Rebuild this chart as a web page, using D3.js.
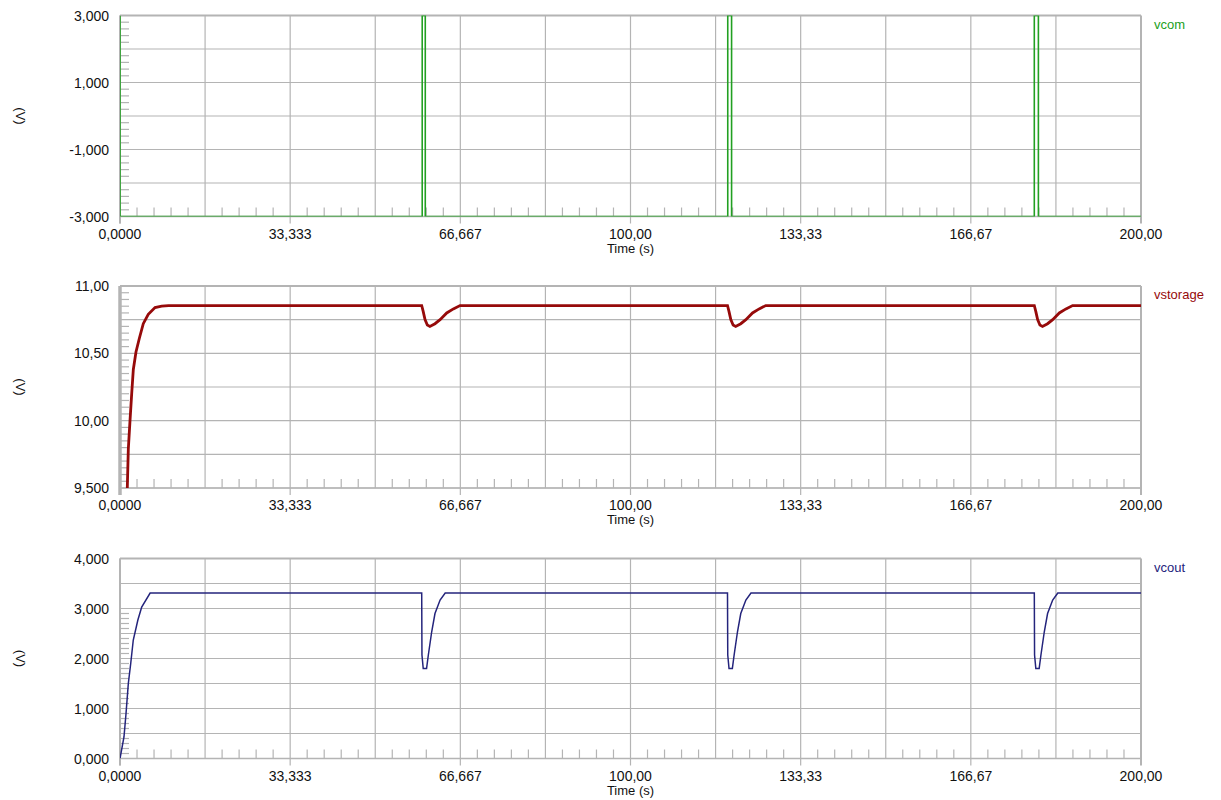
<!DOCTYPE html>
<html>
<head>
<meta charset="utf-8">
<script src="https://cdn.jsdelivr.net/npm/d3@7"></script>
<style>
  body { margin: 0; background: #fff; }
  text { font-family: "Liberation Sans", Arial, sans-serif; fill: #111; }
</style>
</head>
<body>
<div id="container"></div>
<script>
/* DATA */
const xTicks = [0, 33.333, 66.667, 100, 133.33, 166.67, 200];
const xTickLabels = ["0,0000", "33,333", "66,667", "100,00", "133,33", "166,67", "200,00"];

const vcomTicks = [3, 1, -1, -3];
const vcomTickLabels = ["3,000", "1,000", "-1,000", "-3,000"];
const vstorageTicks = [11, 10.5, 10, 9.5];
const vstorageTickLabels = ["11,00", "10,50", "10,00", "9,500"];
const vcoutTicks = [4, 3, 2, 1, 0];
const vcoutTickLabels = ["4,000", "3,000", "2,000", "1,000", "0,000"];

// [time (s), volts]
const vcom = [
  [0, 3], [0, -3],
  [59.2, -3], [59.2, 3], [59.8, 3], [59.8, -3],
  [119.05, -3], [119.05, 3], [119.8, 3], [119.8, -3],
  [179.1, -3], [179.1, 3], [179.9, 3], [179.9, -3],
  [200, -3]
];

const vstorage = [
  [1.30, 9.40], [1.43, 9.50], [1.63, 9.79], [1.96, 10.00], [2.29, 10.20], [2.61, 10.38],
  [3.13, 10.51], [3.78, 10.61], [4.56, 10.72], [5.54, 10.79], [6.86, 10.84], [8.17, 10.85],
  [9.5, 10.855],
  [59.1, 10.855], [59.4, 10.81], [59.75, 10.75], [60.2, 10.71], [60.7, 10.70], [61.7, 10.72],
  [62.7, 10.75], [64.0, 10.80], [65.3, 10.83], [66.6, 10.855],
  [119.0, 10.855], [119.3, 10.81], [119.65, 10.75], [120.1, 10.71], [120.6, 10.70], [121.6, 10.72],
  [122.6, 10.75], [123.9, 10.80], [125.2, 10.83], [126.5, 10.855],
  [179.1, 10.855], [179.4, 10.81], [179.75, 10.75], [180.2, 10.71], [180.7, 10.70], [181.7, 10.72],
  [182.7, 10.75], [184.0, 10.80], [185.3, 10.83], [186.6, 10.855],
  [200, 10.855]
];

const vcout = [
  [0, 0], [0.78, 0.43], [1.18, 0.90], [1.63, 1.50], [2.1, 1.90], [2.6, 2.37],
  [3.5, 2.77], [4.25, 3.03], [5.9, 3.31],
  [59.1, 3.31], [59.15, 2.07], [59.4, 1.80], [60.05, 1.80], [60.4, 2.07], [61.05, 2.53],
  [61.7, 2.90], [62.7, 3.17], [63.7, 3.31],
  [119.0, 3.31], [119.05, 2.07], [119.3, 1.80], [119.95, 1.80], [120.3, 2.07], [120.95, 2.53],
  [121.6, 2.90], [122.6, 3.17], [123.6, 3.31],
  [179.1, 3.31], [179.15, 2.07], [179.4, 1.80], [180.05, 1.80], [180.4, 2.07], [181.05, 2.53],
  [181.7, 2.90], [182.7, 3.17], [183.7, 3.31],
  [200, 3.31]
];

/* CONSTANTS */
const width = 1221;
const height = 800;
const left = 120;
const right = 1141;

const panels = [
  { name: "vcom", data: vcom, color: "#22a022", lw: 1.6, top: 15.5, bottom: 216.5,
    domain: [-3, 3], grid: 1, ticks: vcomTicks, labels: vcomTickLabels, axisW: 2 },
  { name: "vstorage", data: vstorage, color: "#960a0a", lw: 2.8, top: 286, bottom: 488,
    domain: [9.5, 11], grid: 0.25, ticks: vstorageTicks, labels: vstorageTickLabels, axisW: 3.5 },
  { name: "vcout", data: vcout, color: "#24247c", lw: 1.5, top: 558.5, bottom: 758.5,
    domain: [0, 4], grid: 0.5, ticks: vcoutTicks, labels: vcoutTickLabels, axisW: 2 }
];

const svg = d3.select("#container")
  .append("svg")
  .attr("width", width)
  .attr("height", height);

const x = d3.scaleLinear().domain([0, 200]).range([left, right]);

const gridColor = "#b4b4b4";

panels.forEach((p, i) => {
  const y = d3.scaleLinear().domain(p.domain).range([p.bottom, p.top]);
  const g = svg.append("g").attr("class", "panel-" + p.name);

  // clip
  g.append("clipPath").attr("id", "clip" + i)
    .append("rect")
    .attr("x", left).attr("y", p.top)
    .attr("width", right - left).attr("height", p.bottom - p.top);

  // horizontal grid
  const hGrid = d3.range(p.domain[0], p.domain[1] + p.grid / 2, p.grid);
  g.selectAll(".hgrid")
    .data(hGrid)
    .enter()
    .append("line")
    .attr("x1", left).attr("x2", right)
    .attr("y1", d => y(d)).attr("y2", d => y(d))
    .attr("stroke", gridColor)
    .attr("stroke-width", d => (d === p.domain[1] ? 2 : 1.2));

  // vertical grid, extending below as major ticks
  const vGrid = d3.range(0, 200.01, 200 / 12);
  g.selectAll(".vgrid")
    .data(vGrid)
    .enter()
    .append("line")
    .attr("x1", d => x(d)).attr("x2", d => x(d))
    .attr("y1", p.top)
    .attr("y2", (d, j) => (j % 2 === 0 ? p.bottom + 7 : p.bottom))
    .attr("stroke", gridColor)
    .attr("stroke-width", (d, j) => (j === 12 ? 2 : 1.2));

  // minor x ticks
  const minorX = d3.range(0, 200.01, 200 / 60).filter((d, j) => j % 5 !== 0);
  g.selectAll(".mx")
    .data(minorX)
    .enter()
    .append("line")
    .attr("x1", d => x(d)).attr("x2", d => x(d))
    .attr("y1", p.bottom).attr("y2", p.bottom - 9)
    .attr("stroke", gridColor)
    .attr("stroke-width", 1.2);

  // minor y ticks
  const minorY = d3.range(0, 30).map(j => p.domain[0] + j * p.grid / 5).filter((d, j) => j % 5 !== 0 && d < p.domain[1]);
  g.selectAll(".my")
    .data(minorY)
    .enter()
    .append("line")
    .attr("x1", left).attr("x2", left + 9)
    .attr("y1", d => y(d)).attr("y2", d => y(d))
    .attr("stroke", gridColor)
    .attr("stroke-width", 1.2);

  // axes lines
  g.append("line")
    .attr("x1", left).attr("x2", left)
    .attr("y1", p.top).attr("y2", p.bottom + 7)
    .attr("stroke", gridColor).attr("stroke-width", p.axisW);
  g.append("line")
    .attr("x1", left).attr("x2", right)
    .attr("y1", p.bottom).attr("y2", p.bottom)
    .attr("stroke", gridColor).attr("stroke-width", 1.5);

  // y tick labels
  g.selectAll(".ylab")
    .data(p.ticks)
    .enter()
    .append("text")
    .attr("x", 109)
    .attr("y", d => y(d) + 5)
    .attr("text-anchor", "end")
    .style("font-size", "14px")
    .text((d, j) => p.labels[j]);

  // x tick labels
  g.selectAll(".xlab")
    .data(xTicks)
    .enter()
    .append("text")
    .attr("x", d => x(d))
    .attr("y", p.bottom + 22)
    .attr("text-anchor", "middle")
    .style("font-size", "14px")
    .text((d, j) => xTickLabels[j]);

  // axis titles
  g.append("text")
    .attr("x", x(100))
    .attr("y", p.bottom + 36)
    .attr("text-anchor", "middle")
    .style("font-size", "13px")
    .text("Time (s)");

  g.append("text")
    .attr("transform", `translate(16,${(p.top + p.bottom) / 2}) rotate(90)`)
    .attr("text-anchor", "middle")
    .style("font-size", "13px")
    .text("(V)");

  // series name
  g.append("text")
    .attr("x", 1154)
    .attr("y", p.top + 13)
    .style("font-size", "13px")
    .style("fill", p.color)
    .text(p.name);

  // trace
  const line = d3.line()
    .x(d => x(d[0]))
    .y(d => y(d[1]));

  g.append("path")
    .datum(p.data)
    .attr("clip-path", `url(#clip${i})`)
    .attr("fill", "none")
    .attr("stroke", p.color)
    .attr("stroke-width", p.lw)
    .attr("stroke-linejoin", "miter")
    .attr("d", line);
});
</script>
</body>
</html>
